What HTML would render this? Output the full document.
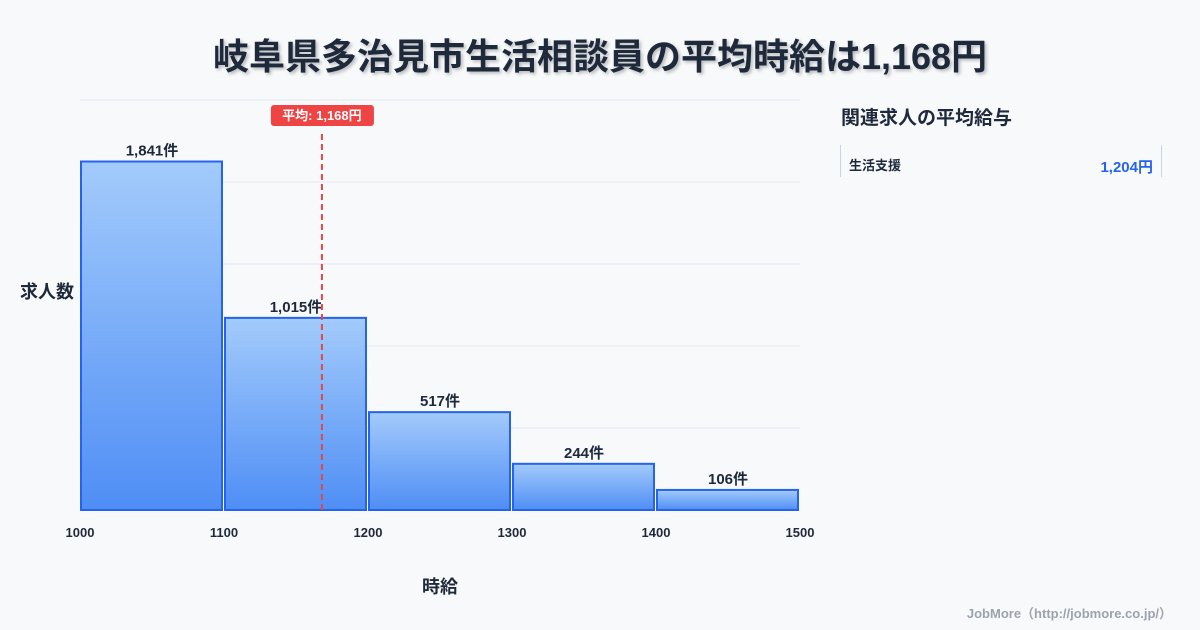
<!DOCTYPE html>
<html><head><meta charset="utf-8"><style>
body{margin:0;width:1200px;height:630px;background:#f8f9fb;font-family:"Liberation Sans","Noto Sans CJK JP",sans-serif;overflow:hidden;position:relative}
.t{position:absolute;left:0;width:1200px;top:28px;text-align:center;font-size:36px;font-weight:bold;color:#1e293b;text-shadow:2px 2px 3px rgba(0,0,0,0.25)}
</style></head><body>
<div class="t">岐阜県多治見市生活相談員の平均時給は1,168円</div>
<svg id="c" width="1200" height="630" style="position:absolute;left:0;top:0">
<defs><linearGradient id="g" x1="0" y1="0" x2="0" y2="1"><stop offset="0" stop-color="#a3cbfb"/><stop offset="1" stop-color="#4f8ef5"/></linearGradient></defs>
</svg>
<script>
const binStarts=[1000,1100,1200,1300,1400];
const counts=[1841,1015,517,244,106];
const xTicks=[1000,1100,1200,1300,1400,1500];
const avg=1168;
const yMax=2166;
const NS='http://www.w3.org/2000/svg';
const svg=document.getElementById('c');
const X=v=>80+(v-1000)*720/500;
const Y=v=>510-v*410/yMax;
function mk(t,a,txt){const e=document.createElementNS(NS,t);for(const k in a)e.setAttribute(k,a[k]);if(txt!==undefined)e.textContent=txt;svg.appendChild(e);return e;}
for(let i=0;i<=5;i++){const l=mk('line',{x1:80,x2:800,y1:100+i*82,y2:100+i*82,stroke:'#e2e8f0','stroke-width':1});

}
binStarts.forEach((b,i)=>{
const r=mk('rect',{x:X(b)+1,y:Y(counts[i]),width:X(b+100)-X(b)-3,height:510-Y(counts[i]),fill:'url(#g)',stroke:'#2563eb','stroke-width':2});


const t=mk('text',{x:(X(b)+X(b+100))/2,y:Y(counts[i])-6,'text-anchor':'middle','font-size':15,'font-weight':'bold',fill:'#1e293b'},counts[i].toLocaleString('en-US')+'件');


});
xTicks.forEach(v=>{const t=mk('text',{x:X(v),y:537,'text-anchor':'middle','font-size':13,'font-weight':'bold',fill:'#1e293b'},v);

});
const al=mk('line',{x1:X(avg),x2:X(avg),y1:134,y2:510,stroke:'#e04848','stroke-width':2,'stroke-dasharray':'6,4'});


const ab=mk('rect',{x:X(avg)-51,y:105,width:103,height:21,rx:3,fill:'#ef4444'});


const at=mk('text',{x:X(avg),y:120,'text-anchor':'middle','font-size':13,'font-weight':'bold',fill:'#fff'},'平均: '+avg.toLocaleString('en-US')+'円');


const yt=mk('text',{x:20,y:298,'font-size':18,'font-weight':'bold',fill:'#1e293b'},'求人数');


const xt=mk('text',{x:440,y:593,'text-anchor':'middle','font-size':18,'font-weight':'bold',fill:'#1e293b'},'時給');


</script>
<div style="position:absolute;left:841px;top:103px;font-size:19px;font-weight:bold;color:#1e293b">関連求人の平均給与</div>
<div style="position:absolute;left:840px;top:145px;width:320px;height:32px;border-left:1px solid #cbd5e1;border-right:1px solid #cbd5e1">
<span style="position:absolute;left:8px;top:10px;font-size:13px;font-weight:bold;color:#1e293b">生活支援</span>
<span style="position:absolute;right:8px;top:11px;font-size:15px;font-weight:bold;color:#2563eb">1,204円</span>
</div>
<div style="position:absolute;right:28px;top:603px;font-size:13px;font-weight:bold;color:#9ca3af">JobMore（http://jobmore.co.jp/）</div>
</body></html>
